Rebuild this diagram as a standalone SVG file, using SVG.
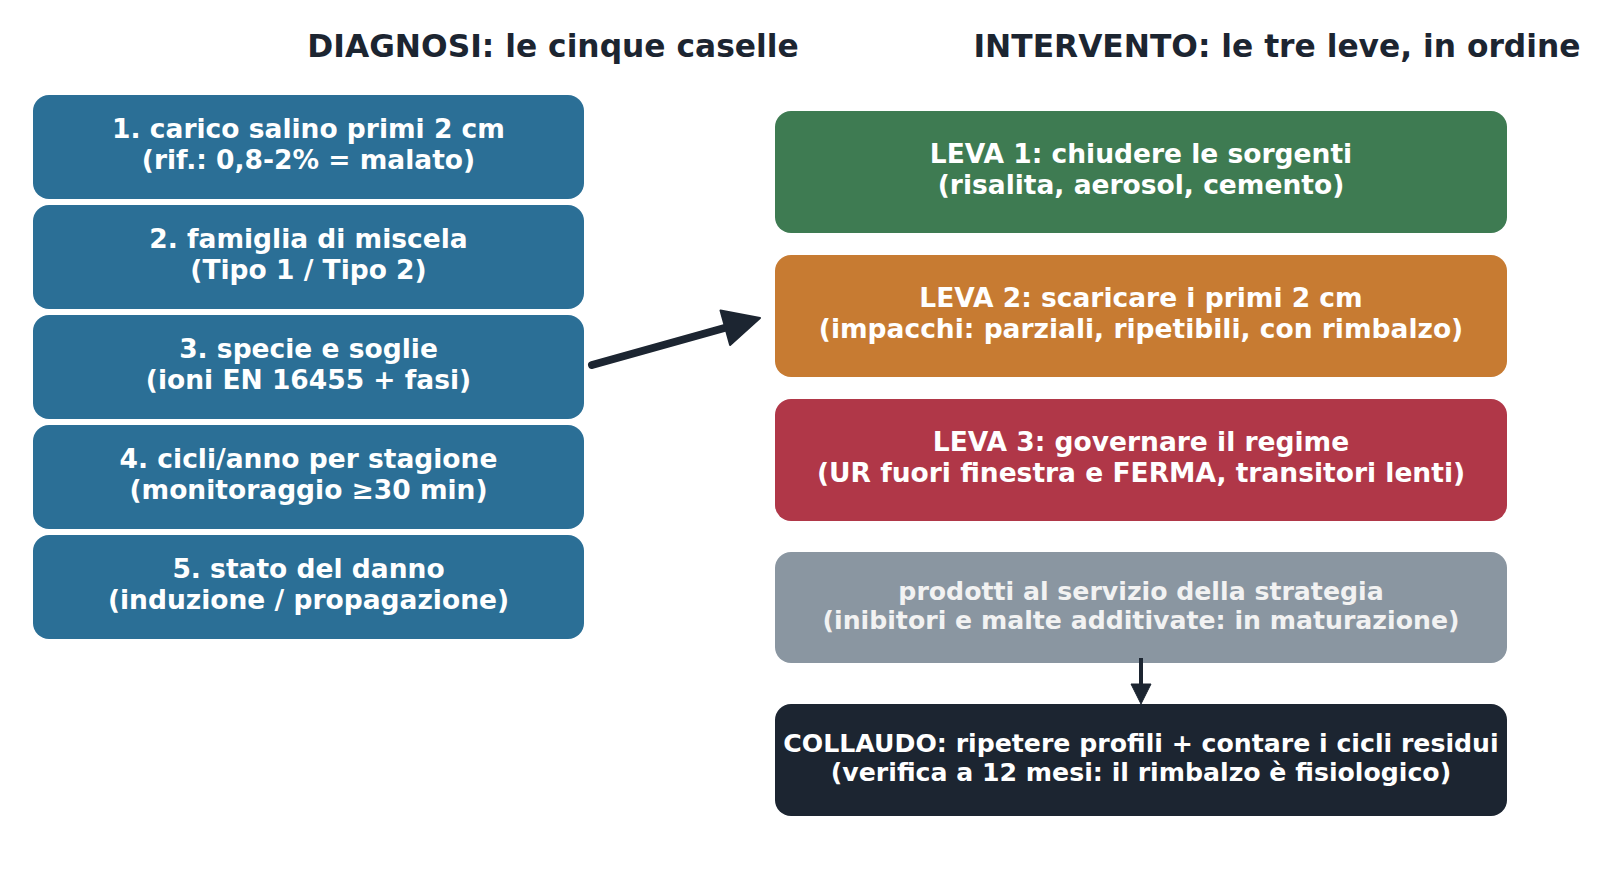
<svg xmlns="http://www.w3.org/2000/svg" width="1600" height="886" viewBox="0 0 1600 886">
<style>
.title{font-family:"DejaVu Sans",sans-serif;font-weight:bold;font-size:31.3px;fill:#1c2531;text-anchor:middle}
.t{font-family:"DejaVu Sans",sans-serif;font-weight:bold;font-size:26.5px;fill:#ffffff;text-anchor:middle}
.ts{font-family:"DejaVu Sans",sans-serif;font-weight:bold;font-size:25.2px;fill:#ffffff;text-anchor:middle}
.diag{fill:#2b6f96}
</style>
<rect width="1600" height="886" fill="#ffffff"/>
<text class="title" x="553" y="57">DIAGNOSI: le cinque caselle</text>
<text class="title" x="1277" y="57">INTERVENTO: le tre leve, in ordine</text>
<g id="d1"><rect class="diag" x="33" y="95" width="551" height="104" rx="16"/><text class="t" x="308.5" y="138">1. carico salino primi 2 cm</text><text class="t" x="308.5" y="169">(rif.: 0,8-2% = malato)</text></g>
<g id="d2"><rect class="diag" x="33" y="205" width="551" height="104" rx="16"/><text class="t" x="308.5" y="248">2. famiglia di miscela</text><text class="t" x="308.5" y="279">(Tipo 1 / Tipo 2)</text></g>
<g id="d3"><rect class="diag" x="33" y="315" width="551" height="104" rx="16"/><text class="t" x="308.5" y="358">3. specie e soglie</text><text class="t" x="308.5" y="389">(ioni EN 16455 + fasi)</text></g>
<g id="d4"><rect class="diag" x="33" y="425" width="551" height="104" rx="16"/><text class="t" x="308.5" y="468">4. cicli/anno per stagione</text><text class="t" x="308.5" y="499">(monitoraggio ≥30 min)</text></g>
<g id="d5"><rect class="diag" x="33" y="535" width="551" height="104" rx="16"/><text class="t" x="308.5" y="578">5. stato del danno</text><text class="t" x="308.5" y="609">(induzione / propagazione)</text></g>
<g id="l1"><rect x="775" y="111" width="732" height="122" rx="16" fill="#3e7b52"/><text class="t" x="1141" y="163">LEVA 1: chiudere le sorgenti</text><text class="t" x="1141" y="194">(risalita, aerosol, cemento)</text></g>
<g id="l2"><rect x="775" y="255" width="732" height="122" rx="16" fill="#c77b32"/><text class="t" x="1141" y="307">LEVA 2: scaricare i primi 2 cm</text><text class="t" x="1141" y="338">(impacchi: parziali, ripetibili, con rimbalzo)</text></g>
<g id="l3"><rect x="775" y="399" width="732" height="122" rx="16" fill="#b03748"/><text class="t" x="1141" y="451">LEVA 3: governare il regime</text><text class="t" x="1141" y="482">(UR fuori finestra e FERMA, transitori lenti)</text></g>
<g id="prod"><rect x="775" y="552" width="732" height="111" rx="16" fill="#8a96a1"/><text class="ts" x="1141" y="600" style="fill:#f2f2f2">prodotti al servizio della strategia</text><text class="ts" x="1141" y="629" style="fill:#f2f2f2">(inibitori e malte additivate: in maturazione)</text></g>
<g id="coll"><rect x="775" y="704" width="732" height="112" rx="16" fill="#1c2531"/><text class="ts" x="1141" y="752">COLLAUDO: ripetere profili + contare i cicli residui</text><text class="ts" x="1141" y="781">(verifica a 12 mesi: il rimbalzo è fisiologico)</text></g>
<g id="connectors" fill="#1c2531" stroke="#1c2531">
<line x1="592" y1="365" x2="728" y2="327" stroke-width="8" stroke-linecap="round"/>
<polygon points="760,318 720.5,310.4 730.1,345" stroke-width="2" stroke-linejoin="round"/>
<line x1="1141" y1="658" x2="1141" y2="686" stroke-width="4"/>
<polygon points="1141,704 1131,684 1151,684" stroke-width="1"/>
</g>
</svg>
